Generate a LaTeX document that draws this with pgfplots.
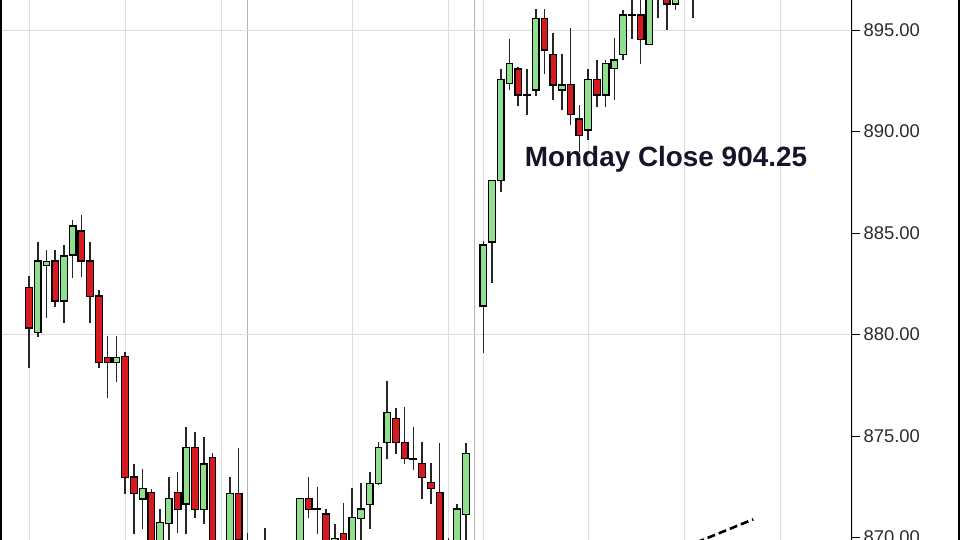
\documentclass[border=0pt]{standalone}
\usepackage{fontspec}
\setmainfont{Liberation Sans}
\usepackage{pgfplots}
\usepackage{pgfplotstable}
\pgfplotsset{compat=1.18}

\definecolor{upgreen}{HTML}{8FDF8F}
\definecolor{downred}{HTML}{D71920}
\definecolor{gridgray}{HTML}{DDDDDD}
\definecolor{sessgray}{HTML}{B4B4B4}
\definecolor{ticktext}{HTML}{2B2B2B}
\definecolor{notetext}{HTML}{15152A}

% candle index, open, high, low, close (values off screen are guesses)
\pgfplotstableread{
i o h l c
0 882.33 882.88 878.35 880.33
1 880.09 884.57 879.89 883.62
2 883.39 884.16 880.85 883.59
3 883.62 884.16 881.37 881.65
4 881.65 884.41 880.58 883.87
5 883.92 885.64 882.82 885.34
6 885.10 885.89 882.82 883.62
7 883.62 884.57 880.58 881.86
8 881.90 882.19 878.36 878.63
9 878.86 879.93 876.86 878.63
10 878.63 879.93 877.65 878.86
11 878.91 879.15 872.14 872.95
12 872.98 873.66 870.17 872.18
13 871.90 873.41 870.45 872.42
14 872.21 872.42 868.50 869.20
15 869.30 871.40 868.90 870.73
16 870.70 872.97 869.50 871.93
17 872.21 873.24 870.21 871.39
18 871.65 875.46 870.17 874.42
19 874.42 875.21 870.95 871.39
20 871.39 874.97 870.67 873.62
21 873.93 874.18 868.20 868.70
22 868.70 869.60 867.80 869.20
23 869.20 872.97 868.90 872.18
24 872.18 874.42 869.30 869.90
25 869.70 870.24 868.90 869.40
26 869.40 869.80 868.60 868.90
27 869.00 870.48 868.50 869.50
28 869.50 869.80 868.70 869.20
29 869.20 869.70 868.50 869.00
30 869.00 869.80 868.60 869.30
31 869.30 871.95 869.00 871.93
32 871.93 872.97 870.95 871.39
33 871.40 872.48 870.17 871.38
34 871.16 871.39 869.00 869.50
35 869.40 870.70 869.10 869.95
36 870.21 871.68 869.20 869.60
37 869.60 872.47 869.30 870.98
38 870.95 872.72 869.80 871.40
39 871.64 873.24 870.42 872.67
40 872.67 874.69 872.60 874.42
41 874.67 877.71 873.87 876.15
42 875.87 876.41 874.15 874.67
43 874.67 876.41 873.62 873.88
44 873.90 875.46 873.36 873.86
45 873.65 874.69 871.90 872.95
46 872.70 873.65 871.65 872.40
47 872.21 874.69 868.50 869.00
48 869.20 869.97 868.60 869.50
49 869.40 871.65 869.00 871.40
50 871.14 874.69 869.60 874.15
51 876.66 876.66 876.66 876.66
52 881.40 884.62 879.10 884.41
53 884.56 887.61 882.55 887.58
54 887.58 893.11 887.04 892.57
55 892.37 894.56 892.04 893.36
56 893.08 893.19 891.26 891.80
57 891.82 893.11 890.81 891.78
58 892.04 896.07 891.76 895.58
59 895.58 896.07 892.83 894.01
60 893.80 894.84 891.55 892.29
61 892.04 893.80 891.06 892.29
62 892.33 895.08 890.32 890.85
63 890.62 891.31 889.00 889.79
64 890.07 893.11 889.58 892.57
65 892.57 893.52 891.22 891.80
66 891.80 893.52 891.22 893.36
67 893.11 894.59 891.55 893.52
68 893.80 896.02 893.52 895.74
69 895.76 896.60 894.54 895.72
70 895.74 896.70 893.36 894.54
71 894.30 897.20 894.30 896.90
72 896.90 897.50 895.58 897.20
73 896.80 897.20 895.03 896.28
74 896.28 897.00 896.02 896.55
75 896.60 897.30 896.60 897.00
76 896.90 897.40 895.58 897.10
}\candles

\begin{document}
\begin{tikzpicture}
  \begin{axis}[
      at={(0,0)}, anchor=south west,
      scale only axis,
      width=852bp, height=540bp,
      xmin=-3.32, xmax=94.2,
      ymin=869.88, ymax=896.48,
      axis line style={draw=none},
      xtick={0,11,22,37,48,52,64,75,86},
      xticklabels={},
      xtick style={draw=none},
      xmajorgrids,
      major grid style={gridgray, line width=0.9bp},
      extra x ticks={25,51},
      extra x tick labels={},
      extra x tick style={grid=major, major grid style={sessgray, line width=1bp}, tick style={draw=none}},
      ytick={870,875,...,895},
      ytick pos=right,
      yticklabel pos=right,
      tick align=outside,
      major tick length=8bp,
      ytick style={black, line width=1bp},
      extra y ticks={880,895},
      extra y tick labels={},
      extra y tick style={grid=major, major grid style={gridgray, line width=0.9bp}},
      yticklabel style={font=\fontsize{18.5}{20}\selectfont, text=ticktext},
      /pgf/number format/.cd, fixed, fixed zerofill, precision=2, assume math mode=true,
    ]
    % wicks
    \addplot[draw=none, mark=none, forget plot,
      error bars/.cd, y dir=both, y explicit, error mark=none,
      error bar style={draw=black!85, line width=1.6bp}]
      table[x=i, y expr={(\thisrow{h}+\thisrow{l})/2}, y error expr={(\thisrow{h}-\thisrow{l})/2}] {\candles};
    % bodies: invisible base, then up part, then down part
    \addplot[ybar stacked, bar shift=0pt, bar width=0.76, draw=none, fill=none, forget plot]
      table[x=i, y expr={min(\thisrow{o},\thisrow{c})}] {\candles};
    \addplot[ybar stacked, bar shift=0pt, bar width=0.76, draw=black, line width=1.3bp, fill=upgreen, forget plot]
      table[x=i, y expr={max(\thisrow{c}-\thisrow{o},0)}] {\candles};
    \addplot[ybar stacked, bar shift=0pt, bar width=0.76, draw=black, line width=1.3bp, fill=downred, forget plot]
      table[x=i, y expr={max(\thisrow{o}-\thisrow{c},0)}] {\candles};
    % trend line
    \addplot[black, line width=2.6bp, dash pattern=on 8bp off 4bp] coordinates {(76.4,869.76) (82.9,870.90)};
    \node[anchor=base, font=\fontsize{28}{30}\selectfont\bfseries, text=notetext]
      at (axis cs:72.91,888.27) {Monday Close 904.25};
    \draw[black, line width=2bp] (rel axis cs:1,0) -- (rel axis cs:1,1);
  \end{axis}
  \draw[black, line width=2bp] (1bp,0) -- (1bp,540bp);
  \draw[black, line width=2bp] (959bp,0) -- (959bp,540bp);
  \pgfresetboundingbox
  \path[use as bounding box] (0,0) rectangle (960bp,540bp);
\end{tikzpicture}
\end{document}
